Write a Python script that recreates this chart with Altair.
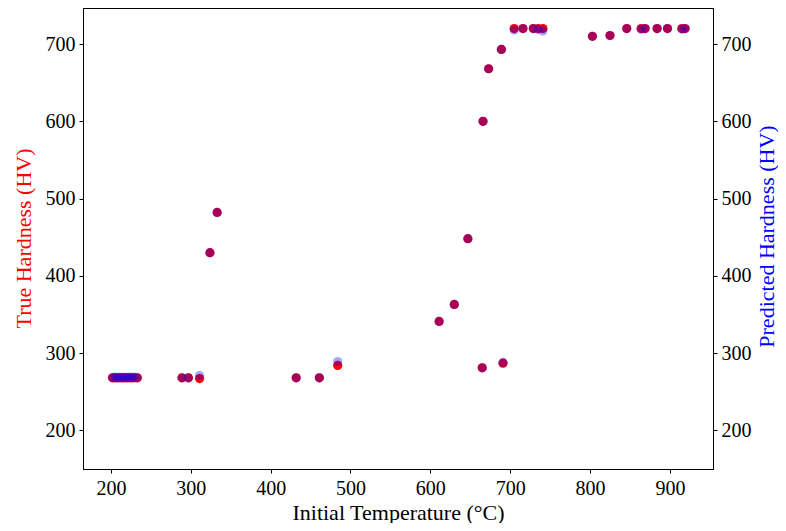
import altair as alt
import pandas as pd

temps = [202, 205, 208, 211, 214, 217, 220, 223, 226, 229, 233,
         289, 297, 311, 324, 333, 432, 461, 484,
         611, 630, 647, 665, 666, 673, 689, 691,
         705, 716, 729, 735, 741,
         803, 825, 846, 864, 869, 884, 897, 915, 919]
true_hv = [268, 268, 268, 268, 268, 268, 268, 268, 268, 268, 268,
           268, 268, 267, 430, 482, 268, 268, 284,
           341, 363, 448, 281, 600, 668, 693, 287,
           720, 720, 720, 720, 720,
           710, 711, 720, 720, 720, 720, 720, 720, 720]
pred_hv = [268, 269, 268, 269, 268, 269, 268, 269, 268, 269, 268,
           268, 268, 271, 430, 482, 268, 268, 289,
           341, 363, 448, 281, 600, 668, 693, 288,
           718, 720, 720, 719, 717,
           710, 711, 720, 719, 720, 720, 720, 719, 720]

df = pd.DataFrame({"temp": temps, "true": true_hv, "pred": pred_hv})

FONT = "Liberation Serif"
xscale = alt.Scale(domain=[165, 954], nice=False, zero=False)
yscale = alt.Scale(domain=[150, 746.6], nice=False, zero=False)
ticks = [200, 300, 400, 500, 600, 700]

xaxis = alt.Axis(title="Initial Temperature (°C)", values=[200, 300, 400, 500, 600, 700, 800, 900],
                 grid=False, tickSize=4, labelPadding=5, titlePadding=4)

red = alt.Chart(df).mark_circle(size=85, color="#ff0000", opacity=1).encode(
    x=alt.X("temp:Q", scale=xscale, axis=xaxis),
    y=alt.Y("true:Q", scale=yscale,
            axis=alt.Axis(title="True Hardness (HV)", titleColor="#ff0000", values=ticks,
                          grid=False, tickSize=4, orient="left", labelPadding=4,
                          titleX=-60, titleY=230, titleAngle=270, titleBaseline="middle",
                          titleAlign="center")),
)

blue = alt.Chart(df).mark_circle(size=85, color="#0000ff", opacity=0.35).encode(
    x=alt.X("temp:Q", scale=xscale, axis=xaxis),
    y=alt.Y("pred:Q", scale=yscale,
            axis=alt.Axis(title="Predicted Hardness (HV)", titleColor="#0000ff", values=ticks,
                          grid=False, tickSize=4, orient="right", labelPadding=4,
                          titleX=53, titleY=228, titleAngle=270, titleBaseline="middle",
                          titleAlign="center")),
)

chart = alt.layer(red, blue).resolve_scale(y="independent").properties(
    width=630, height=461,
    autosize=alt.AutoSizeParams(type="none"),
    padding={"left": 75, "top": 0, "right": 65, "bottom": 54},
).configure_view(stroke="black", strokeWidth=1).configure_axis(
    labelFont=FONT, titleFont=FONT, labelFontSize=20, titleFontSize=22,
    labelColor="black", titleFontWeight="normal", domainColor="black", tickColor="black",
    labelFlush=False,
)

chart.save("out.html", embed_options={"renderer": "svg", "actions": False})
